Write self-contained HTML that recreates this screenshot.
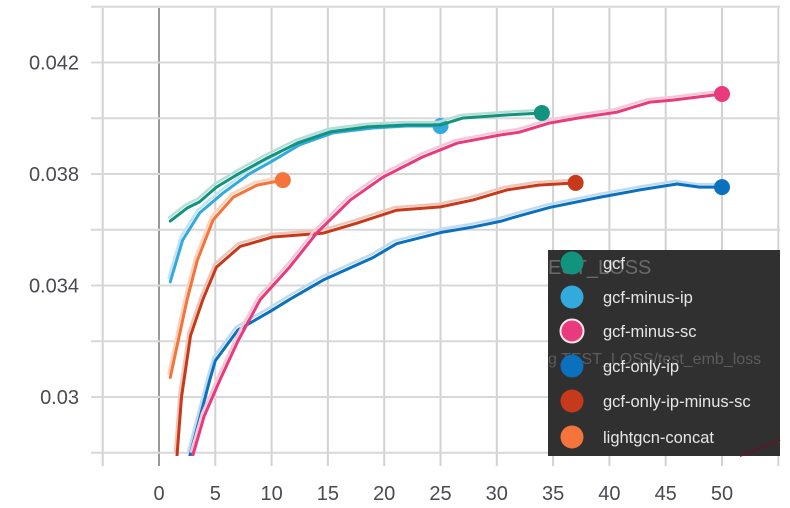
<!DOCTYPE html>
<html><head><meta charset="utf-8"><style>
html,body{margin:0;padding:0;background:#fff;}
svg{display:block;font-family:"Liberation Sans",sans-serif;}
</style></head><body>
<svg id="chart" width="790" height="508">
<g id="grid"></g>
<g id="series"></g>
<g id="axes"></g>
<g id="legend"></g>
</svg>
<script>
const xTicks=[0,5,10,15,20,25,30,35,40,45,50];
const yTicks=[0.03,0.034,0.038,0.042];
const gcfX=[1,2.5,3.6,5.1,7.2,9.6,12.3,15.2,18.5,22,25,27,31,34];
const gcfY=[0.03631,0.03678,0.0370,0.03753,0.03804,0.03857,0.03911,0.03951,0.03969,0.03976,0.03976,0.04001,0.04012,0.04019];
const minusIpX=[1,2.1,3.6,5.7,8,10,12.5,15.5,19,22,25];
const minusIpY=[0.03413,0.03563,0.0366,0.03732,0.0380,0.03845,0.03905,0.03948,0.03965,0.03972,0.03972];
const minusScX=[3,4,5.4,7,9,11.6,14,17,19.9,23.4,26.5,30.3,32,34.7,37.7,40.7,43.6,45.6,50];
const minusScY=[0.0279,0.0293,0.0306,0.0320,0.0335,0.03466,0.03588,0.03707,0.03789,0.03861,0.03911,0.0394,0.03950,0.03983,0.04004,0.04022,0.04058,0.04065,0.04087];
const onlyIpX=[2.75,4.5,5,7,10,11.6,14.6,19,21.1,25,27.9,30.3,32,34.7,39.2,42.7,46,48,50];
const onlyIpY=[0.0279,0.0306,0.0313,0.0324,0.0331,0.0335,0.0342,0.0350,0.0355,0.0359,0.0361,0.0363,0.03650,0.0368,0.03717,0.03743,0.03764,0.03753,0.03753];
const onlyIpMscX=[1.6,2,2.8,3.9,5.1,7.2,10.1,14.6,17.6,21.1,25,27.9,30.9,33.7,37];
const onlyIpMscY=[0.0279,0.0300,0.0322,0.0335,0.03466,0.0354,0.03574,0.03588,0.03624,0.0367,0.03682,0.03707,0.03743,0.0376,0.03768];
const lgcX=[1,2.5,3.4,4.8,6.6,8.7,11];
const lgcY=[0.0307,0.0335,0.0349,0.03635,0.03717,0.0376,0.03778];
const names=["gcf","gcf-minus-ip","gcf-minus-sc","gcf-only-ip","gcf-only-ip-minus-sc","lightgcn-concat"];
const colors=["#12937d","#33aadd","#e83a7c","#0b70bd","#c6391a","#f4743b"];
const ghosts=["#b5dfd6","#c2e4f4","#f9c6d8","#bedbf1","#f1c4b6","#fcd3bf"];

const NS="http://www.w3.org/2000/svg";
function X(v){return 159+v*11.26;}
function Y(v){return 397-(v-0.03)*27875;}
function mk(t,a,p){const e=document.createElementNS(NS,t);for(const k in a)e.setAttribute(k,a[k]);p.appendChild(e);return e;}
const grid=document.getElementById('grid'),axes=document.getElementById('axes'),ser=document.getElementById('series'),leg=document.getElementById('legend');
for(let v=-5;v<=55;v+=5){const l=mk('line',{x1:X(v),x2:X(v),y1:8,y2:466,stroke:v===0?'#9a9a9a':'#d2d2d2','stroke-width':2},grid);

}
for(let i=0;i<9;i++){const v=0.028+i*0.002;const l=mk('line',{x1:91,x2:780,y1:Y(v),y2:Y(v),stroke:'#d8d8d8','stroke-width':2},grid);

}
xTicks.forEach(v=>{const t=mk('text',{x:X(v),y:500,'text-anchor':'middle','font-size':20,fill:'#4a4a52'},axes);t.textContent=v;

});
yTicks.forEach(v=>{const t=mk('text',{x:79,y:Y(v)+7,'text-anchor':'end','font-size':20,fill:'#4a4a52'},axes);t.textContent=String(v);

});
const cp=mk('clipPath',{id:'cp'},ser);mk('rect',{x:91,y:0,width:689,height:456},cp);
const g=mk('g',{'clip-path':'url(#cp)'},ser);
const data=[[gcfX,gcfY],[minusIpX,minusIpY],[minusScX,minusScY],[onlyIpX,onlyIpY],[onlyIpMscX,onlyIpMscY],[lgcX,lgcY]];
const order=[3,4,2,5,1,0];
order.forEach(i=>{const [xs,ys]=data[i];
const pts=xs.map((x,j)=>X(x)+','+Y(ys[j])).join(' ');
const gp=mk('polyline',{points:xs.map((x,j)=>(X(x)-2)+','+(Y(ys[j])-3)).join(' '),fill:'none',stroke:ghosts[i],'stroke-width':2.5,'stroke-linejoin':'round'},g);


const p=mk('polyline',{points:pts,fill:'none',stroke:colors[i],'stroke-width':3,'stroke-linejoin':'round','stroke-linecap':'round'},g);


const c=mk('circle',{cx:X(xs[xs.length-1]),cy:Y(ys[ys.length-1]),r:8,fill:colors[i]},g);

});
const bg=mk('rect',{x:548,y:250,width:232,height:206,fill:'#303030'},leg);


const gh=mk('text',{x:548,y:274,'font-size':20,fill:'#6a6a6a'},leg);gh.textContent='EST_LOSS';


const gh2=mk('text',{x:548,y:364,'font-size':16,fill:'#5c5c5c'},leg);gh2.textContent='g TEST_LOSS/test_emb_loss';


const dl=mk('line',{x1:740,y1:456,x2:780,y2:440,stroke:'#5a1a28','stroke-width':2},leg);


const ly=[263,297,331,366,401,437];
names.forEach((n,i)=>{const c=mk('circle',{cx:572,cy:ly[i],r:11.5,fill:colors[i],stroke:i===2?'#f5e5ea':'none','stroke-width':2},leg);


const t=mk('text',{x:603,y:ly[i]+6,'font-size':16.5,fill:'#e6e6e6'},leg);t.textContent=n;

});
</script>
</body></html>
